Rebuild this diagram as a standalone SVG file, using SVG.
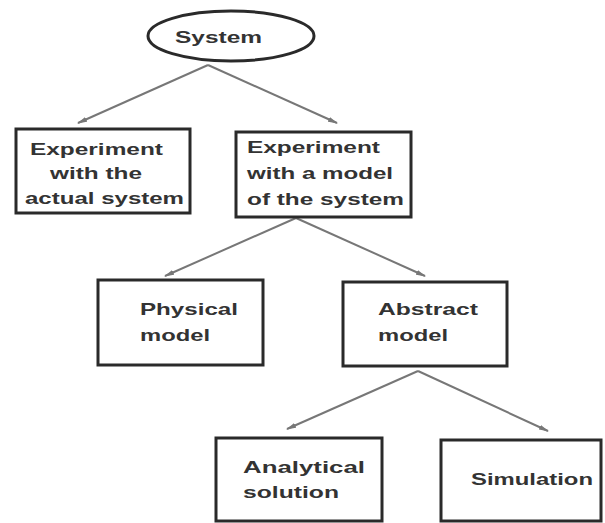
<svg xmlns="http://www.w3.org/2000/svg" width="605" height="523" viewBox="0 0 605 523">
<style>
.box{fill:#fff;stroke:#2a2a2a;stroke-width:3}
.t{font-family:"Liberation Sans",Arial,sans-serif;font-weight:bold;font-size:17px;fill:#333}
.c{stroke:#777;stroke-width:2;fill:none;marker-end:url(#ah)}
</style>
<defs>
<marker id="ah" viewBox="0 0 10 5" refX="9" refY="2.5" markerWidth="5" markerHeight="2.5" orient="auto" markerUnits="strokeWidth">
<path d="M0,0 L10,2.5 L0,5 Z" fill="#777"/>
</marker>
</defs>
<rect width="605" height="523" fill="#fff"/>
<g id="connectors">
<path class="c" d="M208,65 L78,123"/>
<path class="c" d="M208,65 L337,123"/>
<path class="c" d="M296,218 L165,276"/>
<path class="c" d="M296,218 L425,276"/>
<path class="c" d="M418,371 L287,429"/>
<path class="c" d="M418,371 L548,431"/>
</g>
<g id="system">
<ellipse cx="231" cy="36" rx="83" ry="25" fill="#fff" stroke="#2a2a2a" stroke-width="3"/>
<text class="t" x="175" y="43" font-size="19" textLength="87" lengthAdjust="spacingAndGlyphs">System</text>
</g>
<g id="actual">
<rect class="box" x="16" y="129" width="174" height="84"/>
<text class="t" x="30" y="155" textLength="133" lengthAdjust="spacingAndGlyphs">Experiment</text>
<text class="t" x="50" y="179" textLength="92" lengthAdjust="spacingAndGlyphs">with the</text>
<text class="t" x="25" y="204" textLength="159" lengthAdjust="spacingAndGlyphs">actual system</text>
</g>
<g id="model">
<rect class="box" x="236" y="132" width="175" height="85"/>
<text class="t" x="247" y="153" textLength="133" lengthAdjust="spacingAndGlyphs">Experiment</text>
<text class="t" x="247" y="179" textLength="146" lengthAdjust="spacingAndGlyphs">with a model</text>
<text class="t" x="247" y="205" textLength="157" lengthAdjust="spacingAndGlyphs">of the system</text>
</g>
<g id="physical">
<rect class="box" x="98" y="280" width="165" height="85"/>
<text class="t" x="140" y="315" textLength="98" lengthAdjust="spacingAndGlyphs">Physical</text>
<text class="t" x="140" y="341" textLength="70" lengthAdjust="spacingAndGlyphs">model</text>
</g>
<g id="abstract">
<rect class="box" x="343" y="282" width="164" height="84"/>
<text class="t" x="378" y="315" textLength="100" lengthAdjust="spacingAndGlyphs">Abstract</text>
<text class="t" x="378" y="341" textLength="70" lengthAdjust="spacingAndGlyphs">model</text>
</g>
<g id="analytical">
<rect class="box" x="216" y="438" width="166" height="83"/>
<text class="t" x="243" y="473" textLength="122" lengthAdjust="spacingAndGlyphs">Analytical</text>
<text class="t" x="243" y="498" textLength="96" lengthAdjust="spacingAndGlyphs">solution</text>
</g>
<g id="simulation">
<rect class="box" x="441" y="440" width="160" height="81"/>
<text class="t" x="471" y="485" textLength="122" lengthAdjust="spacingAndGlyphs">Simulation</text>
</g>
</svg>
